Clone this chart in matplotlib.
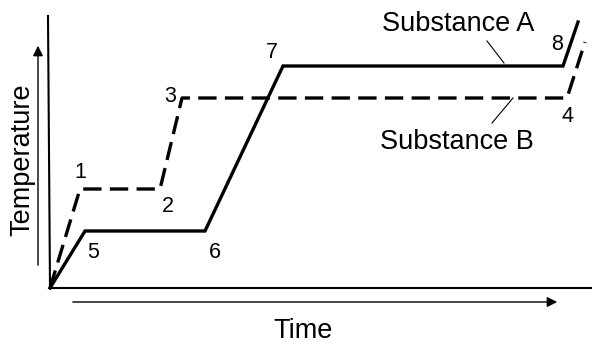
import matplotlib
matplotlib.use('Agg')
import matplotlib.pyplot as plt

plt.rcParams['font.family'] = ['Liberation Sans', 'DejaVu Sans']

# heating curves, time and temperature in arbitrary units
time_a = [0, 35, 155, 233, 513, 528]
temp_a = [0, 57, 57, 222, 222, 266]
time_b = [0, 30, 110, 132, 517, 535]
temp_b = [0, 99, 99, 190, 190, 246]

# point labels: (text, time, temp)
labels_a = [('5', 43, 35), ('6', 165, 36), ('7', 222, 236), ('8', 507, 243)]
labels_b = [('1', 30, 116), ('2', 118, 81), ('3', 120, 192), ('4', 518, 171)]

fig = plt.figure(figsize=(5.92, 3.45), dpi=100)
ax = fig.add_axes([0, 0, 1, 1])
ax.set_xlim(-50, 542)
ax.set_ylim(-57, 288)
ax.axis('off')

# axes lines
ax.plot([-2, 0], [272, 0], color='black', lw=1.5)
ax.plot([0, 542], [0, 0], color='black', lw=1.5)

ax.plot(time_a, temp_a, color='black', lw=2.4, solid_joinstyle='miter')
ax.plot(time_b, temp_b, color='black', lw=2.4, linestyle=(0, (5.5, 2.5)))

for txt, t, T in labels_a + labels_b:
    ax.text(t, T, txt, fontsize=15.5, ha='center', va='center')

ax.text(408, 264, 'Substance A', fontsize=19.5, ha='center', va='center')
ax.plot([437, 454], [247, 225], color='black', lw=0.8)
ax.text(407, 146, 'Substance B', fontsize=19.5, ha='center', va='center')
ax.plot([442, 463], [165, 190], color='black', lw=0.8)

# axis arrows
ax.annotate('', xy=(-12, 245), xytext=(-12, 20),
            arrowprops=dict(arrowstyle='-|>', color='black', lw=1.0, mutation_scale=15))
ax.annotate('', xy=(510, -14), xytext=(20, -14),
            arrowprops=dict(arrowstyle='-|>', color='black', lw=1.0, mutation_scale=15))

ax.text(-28, 128, 'Temperature', fontsize=19.5, rotation=90, ha='center', va='center')
ax.text(253, -43, 'Time', fontsize=19.5, ha='center', va='center')

fig.savefig('out.png', dpi=100)
